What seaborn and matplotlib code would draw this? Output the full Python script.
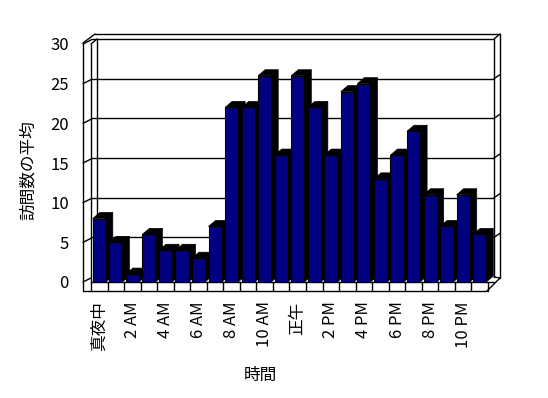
import numpy as np
import pandas as pd
import matplotlib
matplotlib.use('Agg')
import matplotlib.pyplot as plt
import matplotlib.transforms as mtransforms
from matplotlib.lines import Line2D
from matplotlib.patches import Polygon
import seaborn as sns

# Data
hours = list(range(24))
visits = [8, 5, 1, 6, 4, 4, 3, 7, 22, 22, 26, 16, 26, 22, 16, 24, 25, 13, 16, 19, 11, 7, 11, 6]
tick_hours = list(range(0, 24, 2))
tick_labels = ['真夜中', '2 AM', '4 AM', '6 AM', '8 AM', '10 AM', '正午', '2 PM', '4 PM', '6 PM', '8 PM', '10 PM']
y_ticks = [0, 5, 10, 15, 20, 25, 30]

sns.set_style('white')
plt.rcParams['font.family'] = ['Noto Sans CJK JP', 'DejaVu Sans']
plt.rcParams['text.color'] = 'black'
plt.rcParams['axes.labelcolor'] = 'black'
plt.rcParams['xtick.color'] = 'black'
plt.rcParams['ytick.color'] = 'black'
fs = 12

fig = plt.figure(figsize=(5.48, 3.98), dpi=100)
ax = fig.add_axes([91 / 548, 116 / 398, 397 / 548, 238 / 398])
ax.set_autoscale_on(False)
ax.set_xlim(-0.5, 23.5)
ax.set_ylim(0, 30)
ax.patch.set_visible(False)

df = pd.DataFrame({'hour': hours, 'visits': visits})
sns.barplot(data=df, x='hour', y='visits', color='#000080', saturation=1,
            width=0.79, edgecolor='black', linewidth=0.8, ax=ax, zorder=3)
ax.set_xlim(-0.5, 23.5)
ax.set_ylim(0, 30)

# 3D look: black top and side faces behind each bar
bbox = ax.get_window_extent()
ux = bbox.width / 24
uy = bbox.height / 30
dx, dy = 7 / ux, 6 / uy
for p in list(ax.patches):
    x0, w, h = p.get_x(), p.get_width(), p.get_height()
    top = [(x0, h), (x0 + w, h), (x0 + w + dx, h + dy), (x0 + dx, h + dy)]
    side = [(x0 + w, 0), (x0 + w + dx, dy), (x0 + w + dx, h + dy), (x0 + w, h)]
    for pts in (top, side):
        ax.add_patch(Polygon(pts, closed=True, facecolor='black', edgecolor='black',
                             linewidth=0.5, zorder=2, clip_on=False))

# back-wall gridlines (shifted up into the back plane)
grid_tr = ax.get_yaxis_transform() + mtransforms.Affine2D().translate(0, 5)
for v in y_ticks[1:]:
    ax.plot([0, 1 + 6 / bbox.width], [v, v], color='black', lw=1, transform=grid_tr,
            zorder=1, clip_on=False)

# frame of the 3D box, in display pixels
L, R, B, T = bbox.x0, bbox.x1, bbox.y0, bbox.y1
ident = mtransforms.IdentityTransform()


def seg(x0, y0, x1, y1, z=1):
    ax.add_line(Line2D([x0, x1], [y0, y1], color='black', lw=1, transform=ident,
                       zorder=z, clip_on=False))


seg(L - 8, B - 9, L - 8, T + 1)          # left outer edge
seg(L - 8, T + 1, L + 4, T + 10)         # top-left bevel
seg(L + 4, T + 10, R + 12, T + 10)       # top outer edge
seg(R + 12, T + 10, R + 12, B + 4)       # right outer edge
seg(R + 12, B + 4, R - 1, B - 9)         # bottom-right bevel
seg(L - 8, B - 9, R - 1, B - 9)          # floor front edge
seg(L, B, R + 6, B)                      # floor back edge
seg(L, B, L, T)                          # left inner edge
seg(L, T, L + 6, T + 5)
seg(L + 6, B + 5, L + 6, T + 5)          # back-left edge
seg(R + 6, B + 5, R + 6, T + 5)          # back-right edge
seg(R + 6, T + 5, R + 12, T + 10)
seg(R + 6, B + 5, R + 12, B + 4)

# floor dividers at the slot boundaries
for k in range(25):
    xb = ax.transData.transform((k - 0.5, 0))[0]
    seg(xb, B, xb, B - 9, z=4)

# left-wall and right-wall tick marks
for v in y_ticks:
    yv = ax.transData.transform((0, v))[1]
    seg(L - 8, yv, L, yv + 4)
    if 0 < v < 30:
        seg(R + 6, yv + 5, R + 12, yv + 9)

for s in ax.spines.values():
    s.set_visible(False)

ax.set_yticks(y_ticks)
ax.set_yticklabels([str(v) for v in y_ticks], fontsize=fs)
ax.set_xticks(tick_hours)
ax.set_xticklabels(tick_labels, rotation=90, fontsize=fs)
ax.tick_params(axis='y', length=0, pad=16)
ax.tick_params(axis='x', length=0, pad=14)

ax.set_xlabel('時間', fontsize=fs)
ax.set_ylabel('訪問数の平均', fontsize=fs)
ax.xaxis.set_label_coords((260 - 91) / 397, (282 - 367) / 238)
ax.yaxis.set_label_coords((37 - 91) / 397, (282 - 170) / 238)

fig.savefig('out.png', dpi=100)
